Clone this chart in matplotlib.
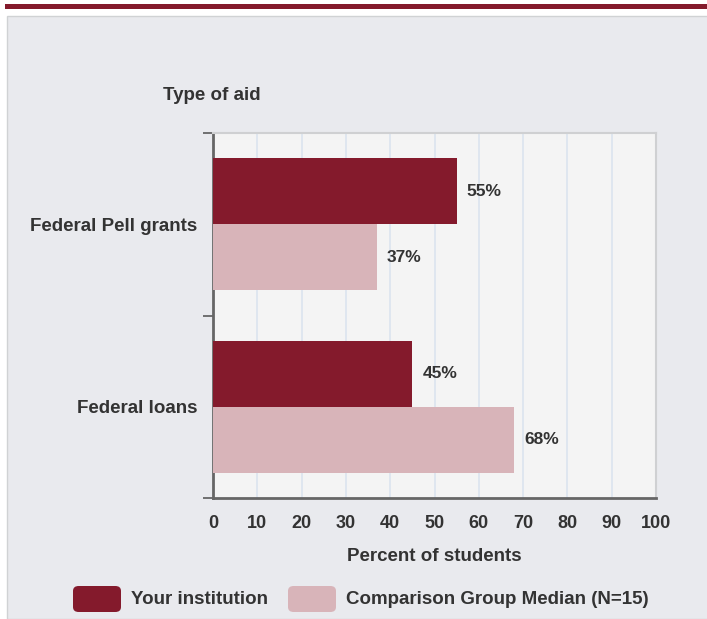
import matplotlib
matplotlib.use("Agg")
import matplotlib.pyplot as plt
from matplotlib.patches import Rectangle, FancyBboxPatch

categories = ["Federal loans", "Federal Pell grants"]
your_institution = [45, 55]
comparison_median = [68, 37]
x_ticks = [0, 10, 20, 30, 40, 50, 60, 70, 80, 90, 100]
series_names = ["Your institution", "Comparison Group Median (N=15)"]

DARK = "#841a2c"
LIGHT = "#d8b4b9"
TXT = "#333333"

plt.rcParams['font.family'] = ['Liberation Sans', 'DejaVu Sans']
plt.rcParams['font.weight'] = 'bold'

fig = plt.figure(figsize=(7.07, 6.19), dpi=100)
fig.patch.set_facecolor("white")

# top maroon band
fig.add_artist(Rectangle((5/707, 1-9/619), 702/707, 5/619, transform=fig.transFigure,
                         facecolor=DARK, edgecolor='none', zorder=-2))
# panel
fig.add_artist(Rectangle((7/707, 0), 1.0, 1-16/619, transform=fig.transFigure,
                         facecolor="#e9eaee", edgecolor="#d0d2d4", linewidth=1, zorder=-2))

ax = fig.add_axes([213/707, 1-498/619, 443/707, 365/619])
ax.set_facecolor("#f4f4f4")
ax.set_xlim(0, 100)
ax.set_ylim(-0.5, 1.5)

h = 66/182
ys = list(range(len(categories)))
ax.barh([y + h/2 for y in ys], your_institution, height=h, color=DARK, zorder=3)
ax.barh([y - h/2 for y in ys], comparison_median, height=h, color=LIGHT, zorder=3)

for y, v in zip(ys, your_institution):
    ax.text(v + 2.3, y + h/2, f"{v}%", va='center', ha='left', fontsize=12.5, color=TXT, fontweight='bold')
for y, v in zip(ys, comparison_median):
    ax.text(v + 2.3, y - h/2, f"{v}%", va='center', ha='left', fontsize=12.5, color=TXT, fontweight='bold')

ax.set_xticks(x_ticks)
ax.set_xticklabels([str(t) for t in x_ticks], fontsize=13, color=TXT, fontweight='bold')
ax.tick_params(axis='x', length=0, pad=12)
ax.grid(axis='x', color="#dbe4ef", linewidth=1.2, zorder=0)

ax.set_yticks([-0.5, 0.5, 1.5])
ax.set_yticklabels([])
ax.set_yticks(ys, minor=True)
ax.set_yticklabels(categories, minor=True, fontsize=13.5, color=TXT, fontweight='bold')
ax.tick_params(axis='y', which='minor', length=0, pad=11)
ax.tick_params(axis='y', which='major', length=7.5, width=1.3, color="#666666")

for s in ['top', 'right']:
    ax.spines[s].set_color("#cfd0d2")
    ax.spines[s].set_linewidth(1.5)
for s in ['left', 'bottom']:
    ax.spines[s].set_color("#666666")
    ax.spines[s].set_linewidth(2)

ax.set_xlabel("Percent of students", fontsize=13.5, color=TXT, fontweight='bold', labelpad=12)
fig.text(163/707, 1-96/619, "Type of aid", fontsize=13.5, color=TXT, fontweight='bold',
         ha='left', va='center')

# legend
ly = 1-599/619
for x0, col, name in [(73, DARK, series_names[0]), (288, LIGHT, series_names[1])]:
    fig.add_artist(FancyBboxPatch((x0/707, (1-612/619)), 48/707, 26/619,
                                  boxstyle="round,pad=0,rounding_size=0.008",
                                  transform=fig.transFigure, facecolor=col, edgecolor='none'))
    fig.text((x0+58)/707, ly, name, fontsize=13.5, color=TXT, fontweight='bold', ha='left', va='center')

fig.savefig("out.png", dpi=100)
